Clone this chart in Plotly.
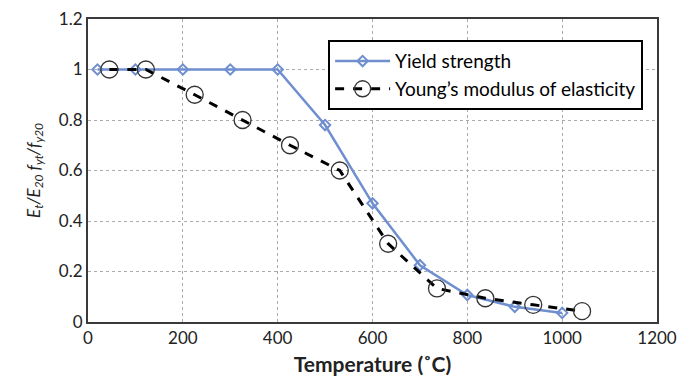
import plotly.graph_objects as go

temp_yield = [20, 100, 200, 300, 400, 500, 600, 700, 800, 900, 1000]
yield_strength = [1.0, 1.0, 1.0, 1.0, 1.0, 0.78, 0.47, 0.225, 0.107, 0.06, 0.036]

temp_young = [45, 122, 225, 326, 426, 531, 633, 736, 838, 939, 1042]
young_modulus = [1.0, 1.0, 0.9, 0.8, 0.7, 0.6, 0.31, 0.133, 0.094, 0.068, 0.043]

x_ticks = [0, 200, 400, 600, 800, 1000, 1200]
y_ticks = [0, 0.2, 0.4, 0.6, 0.8, 1, 1.2]

fig = go.Figure()
fig.add_trace(go.Scatter(
    x=temp_yield, y=yield_strength, mode="lines+markers", name="Yield strength",
    line=dict(color="#6F8FD0", width=2.5),
    marker=dict(symbol="diamond-open", size=8, color="#6F8FD0", line=dict(width=2)),
))
fig.add_trace(go.Scatter(
    x=temp_young, y=young_modulus, mode="lines+markers", name="Young\u2019s modulus of elasticity",
    line=dict(color="black", width=3, dash="dash"),
    marker=dict(symbol="circle-open", size=17, color="#333333", line=dict(width=1.3)),
))

font_family = "Lato, Open Sans, sans-serif"
fig.update_layout(
    width=678, height=369,
    margin=dict(l=80, r=29, t=11, b=55),
    plot_bgcolor="white", paper_bgcolor="white",
    font=dict(family=font_family, size=17, color="#222222"),
    legend=dict(
        x=0.422, y=0.93, xanchor="left", yanchor="top",
        bordercolor="black", borderwidth=2, bgcolor="white",
        font=dict(size=19, color="black"), tracegroupgap=0,
        itemwidth=55,
    ),
    showlegend=True,
)
fig.update_xaxes(
    range=[0, 1200], tickvals=x_ticks, ticktext=[str(v) for v in x_ticks],
    showgrid=True, gridcolor="#ABABAB", griddash="3px,3px", gridwidth=1,
    showline=True, linecolor="#3A3A3A", linewidth=2, mirror=True,
    zeroline=False, ticks="", automargin=False, ticklabeloverflow="allow",
    tickfont=dict(size=17),
    title=dict(text="<b>Temperature (\u02daC)</b>", font=dict(size=21, color="#222222"), standoff=10),
)
fig.update_yaxes(
    range=[0, 1.2], tickvals=y_ticks, ticktext=["0", "0.2", "0.4", "0.6", "0.8", "1", "1.2"],
    showgrid=True, gridcolor="#ABABAB", griddash="3px,3px", gridwidth=1,
    showline=True, linecolor="#3A3A3A", linewidth=2, mirror=True,
    zeroline=False, ticks="", automargin=False, ticklabeloverflow="allow",
    tickfont=dict(size=17),
    title=dict(text="<i>E<sub>t</sub>/E<sub>20</sub> f<sub>yt</sub>/f<sub>y20</sub></i>",
               font=dict(size=17, color="#222222"), standoff=14),
)

fig.write_html("out.html")
